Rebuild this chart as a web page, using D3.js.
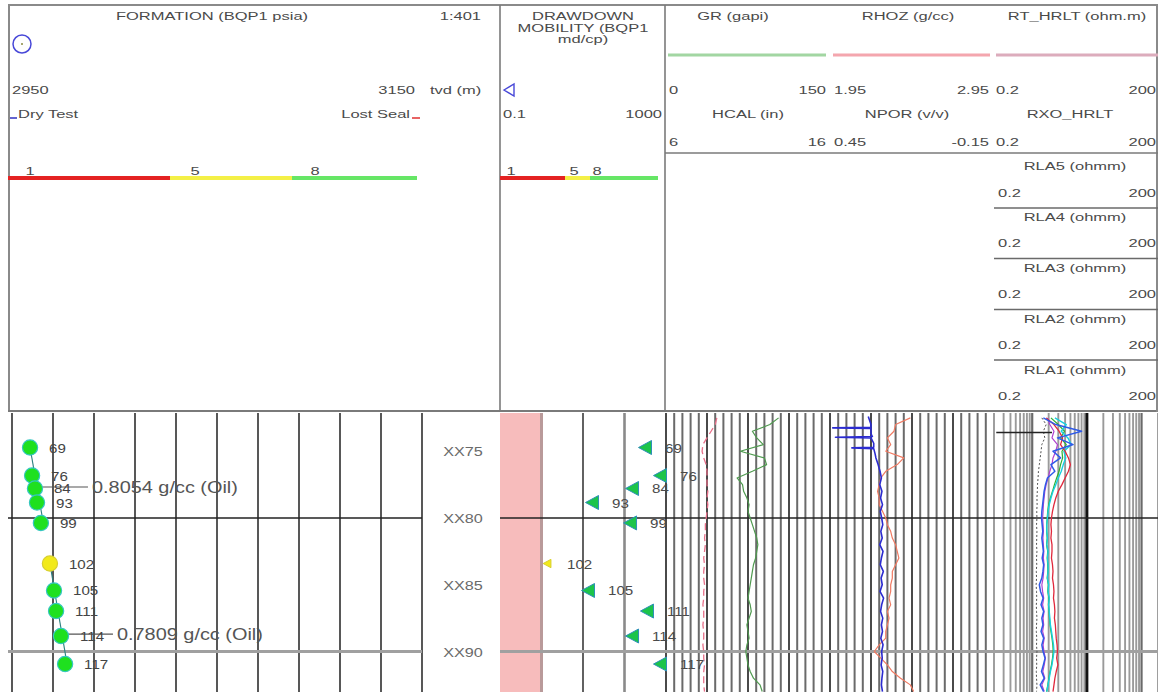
<!DOCTYPE html>
<html><head><meta charset="utf-8">
<script src="https://cdn.jsdelivr.net/npm/d3@7"></script>
<style>
html,body{margin:0;padding:0;background:#fff;}
svg{display:block;font-family:"Liberation Sans",Arial,sans-serif;}
</style>
</head><body>
<svg id="c" width="1158" height="692"></svg>
<script>
// ---------------- DATA ----------------
// Pressure tests
const testIds       = [69, 76, 84, 93, 99, 102, 105, 111, 114, 117];
const testDepth     = [74.72, 76.82, 77.79, 78.84, 80.37, 83.41, 85.43, 86.97, 88.84, 90.94];
const testPressure  = [2958.8, 2959.8, 2961.2, 2962.2, 2964.1, 2968.5, 2970.5, 2971.5, 2973.9, 2975.9];
const testMobility  = [312, 717, 152, 16.5, 136, 1.36, 13.2, 348, 152, 717];
const testQuality   = [8, 8, 8, 8, 8, 5, 8, 8, 8, 8];

// Fluid gradient fits
const gradLabels    = ["0.8054 g/cc (Oil)", "0.7809 g/cc (Oil)"];
const gradDensity   = [0.8054, 0.7809];
const gradTopDepth  = [74.2, 83.0];
const gradBaseDepth = [80.8, 91.3];
const gradAnchorDepth = [74.72, 83.41];
const gradAnchorPress = [2958.8, 2968.5];
const gradLabelDepth  = [77.68, 88.7];

// Depth axis
const depthTicks  = [75, 80, 85, 90];
const depthLabels = ["XX75", "XX80", "XX85", "XX90"];

// Quality legend
const qualityLabels = ["1", "5", "8"];

// Log curves (depth step 0.5 m)
const logDepth = [72.5,73,73.5,74,74.5,75,75.5,76,76.5,77,77.5,78,78.5,79,79.5,80,80.5,81,81.5,82,82.5,83,83.5,84,84.5,85,85.5,86,86.5,87,87.5,88,88.5,89,89.5,90,90.5,91,91.5,92,92.5,93];
const GR   = [103,95,79,83,89,68,90,92,79,65,70,71,74,76,75,77,79,81,83,84,83,82,80,79,78,77,76,75,77,78,76,74,75,76,74,73,74,75,77,80,86,88];
const HCAL = [9.1,9.0,8.75,8.5,8.25,8.2,8.3,8.45,8.5,8.5,8.5,8.55,8.5,8.55,8.5,8.45,8.4,8.4,8.35,8.4,8.35,8.3,8.35,8.3,8.3,8.35,8.3,8.3,8.25,8.3,8.3,8.25,8.3,8.3,8.25,8.3,8.3,8.35,8.3,8.3,8.3,8.35];
const RHOZ = [2.44,2.35,2.34,2.30,2.32,2.29,2.40,2.36,2.29,2.26,2.25,2.24,2.25,2.25,2.27,2.29,2.30,2.32,2.33,2.35,2.36,2.37,2.35,2.33,2.33,2.32,2.32,2.31,2.32,2.30,2.31,2.30,2.29,2.29,2.25,2.22,2.26,2.30,2.33,2.38,2.44,2.46];
// NPOR has its own (denser at top) depth samples
const nporDepth = [72.4,73.0,73.2,73.25,73.3,73.7,73.9,73.95,74.0,74.4,74.7,74.75,74.8,75.2,75.5,76,76.5,77,77.5,78,78.5,79,79.5,80,80.5,81,81.5,82,82.5,83,83.5,84,84.5,85,85.5,86,86.5,87,87.5,88,88.5,89,89.5,90,90.5,91,91.5,92,92.5,93];
const NPOR = [0.31,0.30,0.30,0.44,0.30,0.30,0.295,0.43,0.30,0.29,0.29,0.37,0.29,0.285,0.282,0.274,0.267,0.262,0.268,0.260,0.265,0.258,0.266,0.261,0.257,0.264,0.259,0.268,0.256,0.262,0.266,0.255,0.263,0.259,0.267,0.254,0.261,0.265,0.257,0.262,0.258,0.264,0.256,0.261,0.259,0.263,0.257,0.260,0.262,0.258];
const RT_HRLT  = [1.8,2.5,3.1,3.6,3.3,4.0,4.6,5.0,4.6,4.0,3.5,3.0,2.7,2.5,2.35,2.25,2.2,2.25,2.2,2.3,2.3,2.25,2.35,2.4,2.35,2.45,2.5,2.45,2.55,2.6,2.55,2.65,2.7,2.75,2.85,2.9,2.8,2.95,2.75,2.6,2.5,2.4];
const RXO_HRLT = [1.5,1.8,1.6,1.7,1.5,1.45,1.4,1.35,1.3,1.28,1.25,1.24,1.22,1.23,1.21,1.22,1.2,1.22,1.21,1.2,1.22,1.2,1.21,1.19,1.2,1.18,1.2,1.21,1.19,1.2,1.22,1.2,1.19,1.21,1.2,1.22,1.2,1.21,1.19,1.2,1.22,1.2];
const RLA1 = [1.6,2.7,8.0,2.9,5.6,2.4,3.3,2.2,2.6,1.9,1.75,1.65,1.6,1.55,1.5,1.48,1.52,1.56,1.5,1.55,1.6,1.52,1.62,1.57,1.5,1.35,1.42,1.58,1.45,1.62,1.5,1.57,1.45,1.62,1.5,1.58,1.72,1.6,1.48,1.66,1.4,1.62];
const RLA3 = [2.6,4.2,3.4,4.5,5.2,3.8,4.1,3.7,3.4,3.0,2.7,2.4,2.2,2.05,1.95,1.9,1.85,1.85,1.9,1.85,1.95,1.9,1.95,1.95,1.9,2.0,1.95,2.05,2.0,2.05,2.1,2.15,2.25,2.35,2.45,2.5,2.4,2.3,2.15,2.05,1.95,1.85];
const RLA4 = [2.2,3.0,3.9,3.3,4.2,3.5,3.6,3.3,3.1,2.8,2.55,2.35,2.15,2.0,1.92,1.88,1.84,1.84,1.88,1.83,1.92,1.88,1.92,1.93,1.88,1.97,1.93,2.02,1.98,2.03,2.07,2.12,2.2,2.3,2.38,2.42,2.35,2.25,2.12,2.02,1.93,1.83];
const RLA5 = [1.9,2.1,2.5,2.3,2.9,2.7,2.4,2.3,2.1,1.95,1.8,1.7,1.65,1.6,1.58,1.55,1.58,1.6,1.57,1.6,1.63,1.6,1.65,1.62,1.58,1.5,1.55,1.62,1.55,1.65,1.58,1.62,1.55,1.66,1.58,1.64,1.74,1.66,1.56,1.7,1.5,1.66];
// short marker in resistivity track (depth, from, to in ohm.m)
const resMarkDepth = [73.6];
const resMarkRange = [[0.22, 2.3]];

// ---------------- CHART ----------------
const svg = d3.select("#c");
const W = 1158, H = 692;
const TOP = 412;

const yDepth = d3.scaleLinear().domain([80, 90]).range([518, 651.5]);
const xPress = d3.scaleLinear().domain([2950, 3150]).range([12, 422]);
const xMob   = d3.scaleLog().domain([0.1, 1000]).range([500, 666]);
const xGR    = d3.scaleLinear().domain([0, 150]).range([666, 830]);
const xCAL   = d3.scaleLinear().domain([6, 16]).range([666, 830]);
const xRHOZ  = d3.scaleLinear().domain([1.95, 2.95]).range([830, 994]);
const xNPOR  = d3.scaleLinear().domain([0.45, -0.15]).range([830, 994]);
const xRes   = d3.scaleLog().domain([0.2, 200]).range([994, 1158]);

const qColor = q => q >= 8 ? "#1fe01f" : (q >= 5 ? "#f2ea1a" : "#e02020");
const qEdge  = q => q >= 8 ? "#35c6c0" : (q >= 5 ? "#d8cf30" : "#a01010");
const TXT = "#4a4a4a";

function T(x, y, s, anchor = "start", size = 11, sx = 1.5, fill = TXT) {
  const g = svg.append("g").attr("transform", `translate(${x},${y}) scale(${sx},1)`);
  g.append("text").attr("text-anchor", anchor).attr("font-size", size).attr("fill", fill).text(s);
  return g;
}
function L(x1, y1, x2, y2, stroke, w, dash) {
  const l = svg.append("line").attr("x1", x1).attr("y1", y1).attr("x2", x2).attr("y2", y2)
    .attr("stroke", stroke).attr("stroke-width", w);
  if (dash) l.attr("stroke-dasharray", dash);
  return l;
}

// ---------- bottom panel: backgrounds & grids ----------
svg.append("rect").attr("x", xMob(0.1)).attr("y", TOP + 1).attr("width", xMob(1) - xMob(0.1))
  .attr("height", H - TOP).attr("fill", "#f7bcbc");

// track 1 grid
d3.range(2950, 3151, 20).forEach(p => L(xPress(p), TOP + 1, xPress(p), H, "#3a3a3a", 1.7));
// track 2 grid
[[1, "#b99a9a", 3], [10, "#3a3a3a", 1.6], [100, "#8a8a8a", 2.6], [1000, "#3a3a3a", 1.6]]
  .forEach(([m, c, w]) => L(xMob(m), TOP + 1, xMob(m), H, c, w));
// track 3 grid
d3.range(0, 150, 7.5).forEach((v, i) => L(xGR(v), TOP + 1, xGR(v), H, i % 5 === 0 ? "#4a4a4a" : "#6a6a6a", 2));
d3.range(0, 20).forEach(i => { const v = 1.95 + i * 0.05; L(xRHOZ(v), TOP + 1, xRHOZ(v), H, i % 5 === 0 ? "#4a4a4a" : "#6a6a6a", 2); });
// track 4 log grid
xRes.ticks().forEach(v => {
  const dec = Math.abs(Math.log10(v) - Math.round(Math.log10(v))) < 1e-9;
  if (Math.abs(v - 10) < 1e-9) return;
  L(xRes(v), TOP + 1, xRes(v), H, dec ? "#6a6a6a" : "#9a9a9a", dec ? 2.2 : 1.9);
});
L(xRes(10), TOP + 1, xRes(10), H, "#111", 3);

// horizontal depth lines
const hSegs = [[8, 422], [500, 666], [666, 1158]];
hSegs.forEach(([a, b]) => {
  L(a, yDepth(80), b, yDepth(80), "#222", 1.6);
  L(a, yDepth(90), b, yDepth(90), "#a0a0a0", 3.2);
});

// depth labels
depthTicks.forEach((d, i) => T(463, yDepth(d) + 5, depthLabels[i], "middle", 13.5, 1.2, "#6a6a6a"));

// ---------- curves ----------
svg.append("defs").append("clipPath").attr("id", "bot")
  .append("rect").attr("x", 0).attr("y", TOP + 1).attr("width", W).attr("height", H - TOP);
const cg = svg.append("g").attr("clip-path", "url(#bot)");
function curve(vals, depths, xs, color, w, dash) {
  const line = d3.line().x((d, i) => xs(vals[i])).y((d, i) => yDepth(depths[i]));
  const p = cg.append("path").attr("d", line(depths)).attr("fill", "none")
    .attr("stroke", color).attr("stroke-width", w).attr("stroke-linejoin", "round");
  if (dash) p.attr("stroke-dasharray", dash);
}
curve(HCAL, logDepth, xCAL, "#e8708a", 1.3, "7,4");
curve(GR, logDepth, xGR, "#4f9a4f", 1.2);
curve(RHOZ, logDepth, xRHOZ, "#f07a62", 1.2);
curve(NPOR, nporDepth, xNPOR, "#2b2bd0", 1.6);
curve(RXO_HRLT, logDepth, xRes, "#505050", 1, "2,2");
curve(RLA5, logDepth, xRes, "#b040d0", 1.2);
curve(RLA4, logDepth, xRes, "#30b030", 1.2);
curve(RLA3, logDepth, xRes, "#18d0e0", 1.4);
curve(RT_HRLT, logDepth, xRes, "#e0283c", 1.3);
curve(RLA1, logDepth, xRes, "#2f5ae8", 1.5);
resMarkDepth.forEach((d, i) => L(xRes(resMarkRange[i][0]), yDepth(d), xRes(resMarkRange[i][1]), yDepth(d), "#222", 1.5));

// ---------- gradient lines ----------
gradLabels.forEach((lab, k) => {
  const g = 1.4223 * gradDensity[k]; // psi per m
  const pAt = d => gradAnchorPress[k] + g * (d - gradAnchorDepth[k]);
  L(xPress(pAt(gradTopDepth[k])), yDepth(gradTopDepth[k]), xPress(pAt(gradBaseDepth[k])), yDepth(gradBaseDepth[k]), "#2a7f7f", 1.1);
  const lx = xPress(pAt(gradLabelDepth[k])), ly = yDepth(gradLabelDepth[k]);
  L(lx, ly, lx + 51, ly, "#555", 1.1);
  T(lx + 55, ly + 6, lab, "start", 17, 1.17, "#555");
});

// ---------- pressure points ----------
testIds.forEach((id, i) => {
  const cx = xPress(testPressure[i]), cy = yDepth(testDepth[i]);
  svg.append("circle").attr("cx", cx).attr("cy", cy).attr("r", 7.6)
    .attr("fill", qColor(testQuality[i])).attr("stroke", qEdge(testQuality[i])).attr("stroke-width", 1.2);
});
testIds.forEach((id, i) => {
  const cx = xPress(testPressure[i]), cy = yDepth(testDepth[i]);
  T(cx + 19, cy + 5, String(id), "start", 13.5, 1.12, "#444");
});

// ---------- mobility points ----------
testIds.forEach((id, i) => {
  const mx = xMob(testMobility[i]), my = yDepth(testDepth[i]);
  const s = testQuality[i] >= 8 ? 1 : 0.6;
  svg.append("path")
    .attr("d", `M${-6.5 * s},0 L${6.5 * s},${-7 * s} L${6.5 * s},${7 * s} Z`)
    .attr("transform", `translate(${mx},${my})`)
    .attr("fill", testQuality[i] >= 8 ? "#1cc44a" : "#f2ea1a")
    .attr("stroke", testQuality[i] >= 8 ? "#2e8fb8" : "#d8cf30").attr("stroke-width", 1);
  T(mx + 20, my + 5, String(id), "start", 13.5, 1.12, "#4a4a4a");
});

// ---------- header ----------
L(8, 5, W, 5, "#8a8a8a", 2);
L(9, 5, 9, TOP, "#8a8a8a", 2);
L(8, TOP - 1, W, TOP - 1, "#7a7a7a", 2);
L(W - 1, 5, W - 1, TOP, "#8a8a8a", 2);
L(500, 5, 500, TOP, "#7a7a7a", 1.6);
L(665, 5, 665, TOP, "#7a7a7a", 1.6);
L(665, 153, W, 153, "#7a7a7a", 1.6);
[208, 258.5, 309.5, 360].forEach(y => L(994, y, W, y, "#6a6a6a", 1.5));

// track 1 header
T(212, 20, "FORMATION (BQP1 psia)", "middle");
T(481, 20, "1:401", "end");
svg.append("circle").attr("cx", 22).attr("cy", 44).attr("r", 9).attr("fill", "none").attr("stroke", "#4848d8").attr("stroke-width", 1.5);
svg.append("circle").attr("cx", 22).attr("cy", 44).attr("r", 1).attr("fill", "#8a8a40");
T(12, 94, String(xPress.domain()[0]));
T(415, 94, String(xPress.domain()[1]), "end");
T(430, 94, "tvd (m)");
L(10, 118, 17, 118, "#3030c0", 1.5);
T(18, 118, "Dry Test");
T(410, 118, "Lost Seal", "end");
L(412, 118, 420, 118, "#e03030", 1.5);
// quality bar 1
L(8, 178, 170, 178, "#e42222", 4);
L(170, 178, 292, 178, "#f4f046", 4);
L(292, 178, 417, 178, "#66e666", 4);
[30, 195, 315].forEach((x, i) => T(x, 175, qualityLabels[i], "middle"));

// track 2 header
T(583, 20, "DRAWDOWN", "middle");
T(583, 32, "MOBILITY (BQP1", "middle");
T(583, 43, "md/cp)", "middle");
svg.append("path").attr("d", "M504,90 L514,84 L514,96 Z").attr("fill", "none").attr("stroke", "#4848d8").attr("stroke-width", 1.4);
T(503, 118, String(xMob.domain()[0]));
T(662, 118, String(xMob.domain()[1]), "end");
L(500, 178, 565, 178, "#e42222", 4);
L(565, 178, 590, 178, "#f4f046", 4);
L(590, 178, 658, 178, "#66e666", 4);
[511, 574, 597].forEach((x, i) => T(x, 175, qualityLabels[i], "middle"));

// track 3/4 header
T(733, 20, "GR (gapi)", "middle");
T(908, 20, "RHOZ (g/cc)", "middle");
T(1077, 20, "RT_HRLT (ohm.m)", "middle");
L(668, 55, 826, 55, "#a2d6a2", 3);
L(833, 55, 990, 55, "#f4a6ae", 3);
L(996, 55, 1158, 55, "#dcacbc", 3);
T(669, 94, String(xGR.domain()[0])); T(826, 94, String(xGR.domain()[1]), "end");
T(834, 94, xRHOZ.domain()[0].toFixed(2)); T(989, 94, xRHOZ.domain()[1].toFixed(2), "end");
T(996, 94, String(xRes.domain()[0])); T(1156, 94, String(xRes.domain()[1]), "end");
T(748, 118, "HCAL (in)", "middle");
T(907, 118, "NPOR (v/v)", "middle");
T(1070, 118, "RXO_HRLT", "middle");
T(669, 146, String(xCAL.domain()[0])); T(826, 146, String(xCAL.domain()[1]), "end");
T(834, 146, xNPOR.domain()[0].toFixed(2)); T(989, 146, xNPOR.domain()[1].toFixed(2), "end");
T(996, 146, String(xRes.domain()[0])); T(1156, 146, String(xRes.domain()[1]), "end");

const rlaNames = ["RLA5 (ohmm)", "RLA4 (ohmm)", "RLA3 (ohmm)", "RLA2 (ohmm)", "RLA1 (ohmm)"];
const rlaTitleY = [170, 221, 272, 323, 374];
const rlaValY = [197, 247, 298, 349, 400];
rlaNames.forEach((n, i) => {
  T(1075, rlaTitleY[i], n, "middle");
  T(998, rlaValY[i], String(xRes.domain()[0]));
  T(1156, rlaValY[i], String(xRes.domain()[1]), "end");
});
</script>
</body></html>
